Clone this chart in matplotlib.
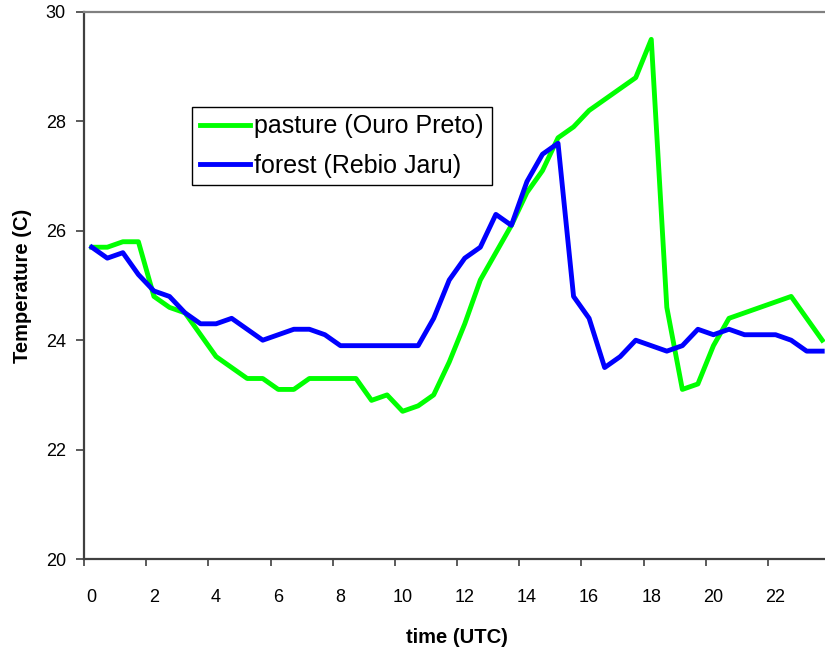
import numpy as np
import matplotlib
matplotlib.use("Agg")
from matplotlib import pyplot as plt
from matplotlib.ticker import FixedLocator, NullFormatter

plt.rcParams['font.family'] = ['Liberation Sans', 'DejaVu Sans']

# half-hourly readings, 0:00 .. 23:30 UTC
time_utc = np.arange(48) * 0.5

pasture = [25.7, 25.7, 25.8, 25.8, 24.8, 24.6, 24.5, 24.1, 23.7, 23.5,
           23.3, 23.3, 23.1, 23.1, 23.3, 23.3, 23.3, 23.3, 22.9, 23.0,
           22.7, 22.8, 23.0, 23.6, 24.3, 25.1, 25.6, 26.1, 26.7, 27.1,
           27.7, 27.9, 28.2, 28.4, 28.6, 28.8, 29.5, 24.6, 23.1, 23.2,
           23.9, 24.4, 24.5, 24.6, 24.7, 24.8, 24.4, 24.0]

forest = [25.7, 25.5, 25.6, 25.2, 24.9, 24.8, 24.5, 24.3, 24.3, 24.4,
          24.2, 24.0, 24.1, 24.2, 24.2, 24.1, 23.9, 23.9, 23.9, 23.9,
          23.9, 23.9, 24.4, 25.1, 25.5, 25.7, 26.3, 26.1, 26.9, 27.4,
          27.6, 24.8, 24.4, 23.5, 23.7, 24.0, 23.9, 23.8, 23.9, 24.2,
          24.1, 24.2, 24.1, 24.1, 24.1, 24.0, 23.8, 23.8]

hour_labels = [str(h) for h in range(0, 24, 2)]

fig = plt.figure(figsize=(8.25, 6.54), dpi=100)
ax = fig.add_axes([84 / 825, 1 - 559 / 654, 746 / 825, 547 / 654])

ax.plot(time_utc, pasture, color="#00ff00", linewidth=3.5, label="pasture (Ouro Preto)")
ax.plot(time_utc, forest, color="#0000ff", linewidth=3.5, label="forest (Rebio Jaru)")

ax.set_xlim(-0.25, 23.75)
ax.set_ylim(20, 30)

# category style axis: ticks between categories, labels on them
ax.xaxis.set_major_locator(FixedLocator(np.arange(0, 24, 2) - 0.25))
ax.xaxis.set_major_formatter(NullFormatter())
ax.xaxis.set_minor_locator(FixedLocator(np.arange(0, 24, 2)))
ax.set_xticklabels(hour_labels, minor=True)
ax.tick_params(axis='x', which='major', direction='out', length=5, width=1.2, color='#404040')
ax.tick_params(axis='x', which='minor', length=0, pad=21.5, labelsize=13)
ax.set_yticks([20, 22, 24, 26, 28, 30])
ax.tick_params(axis='y', direction='out', length=6, width=1.2, color='#404040', pad=7, labelsize=13)

for side in ['left', 'bottom']:
    ax.spines[side].set_color('#404040')
    ax.spines[side].set_linewidth(1.6)
ax.spines['top'].set_color('#808080')
ax.spines['top'].set_linewidth(1.6)
ax.spines['right'].set_visible(False)

ax.set_xlabel('time (UTC)', fontsize=14.5, fontweight='bold', labelpad=16)
ax.set_ylabel('Temperature (C)', fontsize=14.5, fontweight='bold', labelpad=10)

leg = ax.legend(loc='upper left', bbox_to_anchor=(108 / 746, 452 / 547), borderaxespad=0,
                fontsize=18, handlelength=2.0, handletextpad=0.2, borderpad=0.3,
                labelspacing=0.6, fancybox=False, framealpha=1)
leg.get_frame().set_edgecolor('black')
leg.get_frame().set_linewidth(1.0)

fig.savefig('out.png', dpi=100)
